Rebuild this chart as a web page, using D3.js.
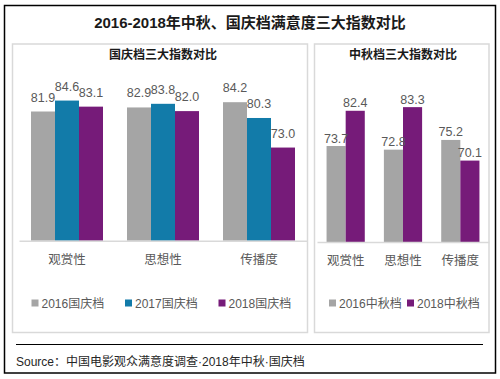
<!DOCTYPE html>
<html><head><meta charset="utf-8">
<script src="https://cdn.jsdelivr.net/npm/d3@7"></script>
<style>
html,body{margin:0;padding:0;background:#fff;}
svg{display:block;font-family:"Liberation Sans","Noto Sans CJK SC",sans-serif;}
</style></head>
<body>
<script>
// ---- data ----
const categories = ["观赏性", "思想性", "传播度"];
const guoqingSeries = ["2016国庆档", "2017国庆档", "2018国庆档"];
const guoqing2016 = [81.9, 82.9, 84.2];
const guoqing2017 = [84.6, 83.8, 80.3];
const guoqing2018 = [83.1, 82.0, 73.0];
const zhongqiuSeries = ["2016中秋档", "2018中秋档"];
const zhongqiu2016 = [73.7, 72.8, 75.2];
const zhongqiu2018 = [82.4, 83.3, 70.1];
const valueDomain = [50, 90];
const titleText = "2016-2018年中秋、国庆档满意度三大指数对比";
const leftTitle = "国庆档三大指数对比";
const rightTitle = "中秋档三大指数对比";
const sourceText = "Source：中国电影观众满意度调查·2018年中秋·国庆档";

const GRAY = "#A5A5A5", BLUE = "#127BA9", PURPLE = "#761B79";
const W = 500, H = 379;
const svg = d3.select("body").append("svg").attr("width", W).attr("height", H);

// outer frame
svg.append("rect").attr("x", 4.5).attr("y", 5.5).attr("width", 491).attr("height", 367.5)
  .attr("fill", "#fff").attr("stroke", "#000").attr("stroke-width", 1.5);

svg.append("text").attr("x", 250).attr("y", 28).attr("text-anchor", "middle")
  .attr("font-size", 15).attr("font-weight", "bold").attr("fill", "#1a1a1a").text(titleText);

function panel(cfg) {
  const g = svg.append("g");
  g.append("rect").attr("x", cfg.px).attr("y", 44).attr("width", cfg.pw).attr("height", 288.5)
    .attr("fill", "#fff").attr("stroke", "#D9D9D9").attr("stroke-width", 1.5);
  g.append("text").attr("x", cfg.titleX).attr("y", 58.5).attr("text-anchor", "middle")
    .attr("font-size", 12).attr("font-weight", "bold").attr("fill", "#1a1a1a").text(cfg.title);

  const x0 = d3.scaleBand().domain(categories).range(cfg.xr)
    .paddingInner(cfg.pi).paddingOuter(cfg.pi / 2);
  const x1 = d3.scaleBand().domain(cfg.series).range([0, x0.bandwidth()]);
  const y = d3.scaleLinear().domain(valueDomain).range([cfg.base, cfg.base - 162]);

  const rows = categories.map((c, i) => ({ c, vals: cfg.values.map(v => v[i]) }));
  const grp = g.selectAll("g.cat").data(rows).join("g")
    .attr("transform", d => `translate(${x0(d.c)},0)`);
  grp.selectAll("rect").data(d => d.vals.map((v, j) => ({ v, s: cfg.series[j], j })))
    .join("rect")
    .attr("x", d => x1(d.s)).attr("width", x1.bandwidth())
    .attr("y", d => y(d.v)).attr("height", d => y(valueDomain[0]) - y(d.v))
    .attr("fill", d => cfg.colors[d.j]);
  grp.selectAll("text").data(d => d.vals.map((v, j) => ({ v, s: cfg.series[j] })))
    .join("text")
    .attr("x", d => x1(d.s) + x1.bandwidth() / 2)
    .attr("y", d => y(d.v) - cfg.gap)
    .attr("text-anchor", "middle").attr("font-size", 12.5).attr("fill", "#595959")
    .text(d => d.v.toFixed(1));

  // axis
  const ax = g.append("g").attr("transform", `translate(0,${cfg.base})`)
    .call(d3.axisBottom(x0).tickSize(0).tickPadding(14));
  ax.select(".domain").attr("stroke", "#D9D9D9").attr("stroke-width", 1.5);
  ax.selectAll("text").attr("font-size", 12.5).attr("fill", "#595959")
    .attr("font-family", "Liberation Sans, Noto Sans CJK SC, sans-serif");

  // legend
  const lg = g.append("g");
  cfg.series.forEach((s, i) => {
    const lx = cfg.legX + i * cfg.legStep;
    lg.append("rect").attr("x", lx).attr("y", 299.5).attr("width", 7).attr("height", 7).attr("fill", cfg.colors[i]);
    lg.append("text").attr("x", lx + 10).attr("y", 307.5).attr("font-size", 12).attr("fill", "#595959").text(s);
  });
}

panel({ px: 12.5, pw: 295, title: leftTitle, titleX: 163, xr: [19, 307], pi: 0.25, base: 240.7, gap: 10,
  series: guoqingSeries, values: [guoqing2016, guoqing2017, guoqing2018], colors: [GRAY, BLUE, PURPLE],
  legX: 31.5, legStep: 93.5 });
panel({ px: 314.5, pw: 174.5, title: rightTitle, titleX: 403, xr: [317, 489], pi: 1 / 3, base: 242, gap: 3.5,
  series: zhongqiuSeries, values: [zhongqiu2016, zhongqiu2018], colors: [GRAY, PURPLE],
  legX: 329, legStep: 78 });

svg.append("line").attr("x1", 16).attr("x2", 483).attr("y1", 344.5).attr("y2", 344.5)
  .attr("stroke", "#000").attr("stroke-width", 1);
svg.append("text").attr("x", 16).attr("y", 366).attr("font-size", 12).attr("fill", "#262626").text(sourceText);
</script>
</body></html>
